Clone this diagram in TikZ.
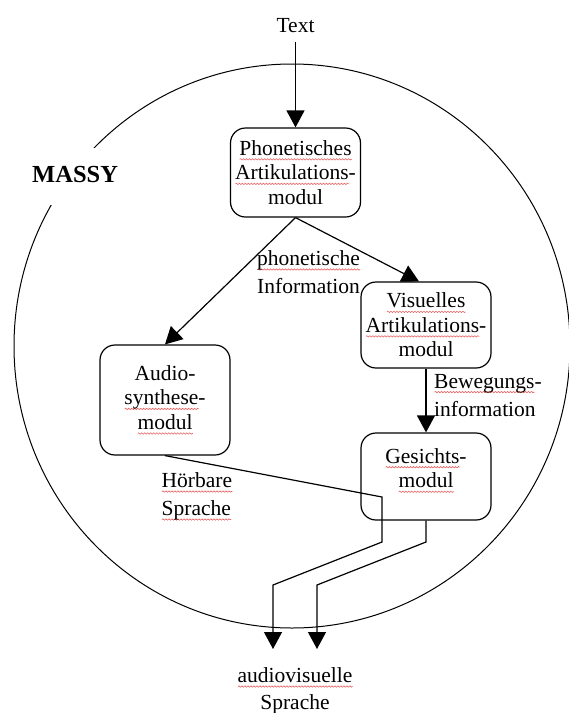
\documentclass[tikz,border=0pt]{standalone}
\usepackage{fontspec}
\setmainfont{Liberation Serif}
\usetikzlibrary{arrows.meta,decorations.pathmorphing}
\definecolor{splred}{RGB}{232,96,96}
% wavy red underline for flagged words
\newsavebox\splbox
\newlength\splw
\newcommand\spl[1]{\sbox\splbox{#1}\setlength\splw{\wd\splbox}%
  \rlap{\tikz[baseline=0pt,x=1pt,y=1pt,sharp corners]
    \draw[splred,line width=0.6pt,decorate,
      decoration={snake,amplitude=0.7pt,segment length=3pt}]
      (0pt,-4pt) -- (\splw,-4pt);}%
  \usebox\splbox}

\begin{document}
\begin{tikzpicture}[x=1pt,y=-1pt,
  modbox/.style={draw, line width=1.2pt, rounded corners=15pt, minimum width=130pt,
    inner sep=0pt, align=center, font=\fontsize{21.5}{24.5}\selectfont},
  lbl/.style={inner sep=0pt, font=\fontsize{21.5}{28}\selectfont},
  conn/.style={line width=1.2pt},
  arr/.style={conn, -{Triangle[width=18pt,length=17pt]}},
]
\path[use as bounding box] (0,0) rectangle (569,713);

% system boundary
\draw[line width=1pt] (292,346) ellipse [x radius=278pt, y radius=282pt];

% modules
\node[modbox, minimum height=89pt] (P) at (295.5,172.5)
  {\spl{Phonetisches}\\\spl{Artikulations}-\\modul};
\node[modbox, minimum height=110pt] (A) at (165,400)
  {Audio-\\\spl{synthese}-\\\spl{modul}};
\node[modbox, minimum height=86pt] (V) at (426,325)
  {\spl{Visuelles}\\\spl{Artikulations}-\\modul};
\node[modbox, minimum height=87pt, text depth=17pt] (G) at (426,476.5)
  {\spl{Gesichts}-\\\spl{modul}};

% labels
\node[lbl, anchor=north] (T) at (295.5,17.8) {Text};
\node[lbl, anchor=north west, align=left] (pi) at (257,250.4)
  {\spl{phonetische}\\Information};
\node[lbl, anchor=north west, align=left] (bi) at (434,373.8)
  {\spl{Bewegungs}-\\information};
\node[lbl, anchor=north west, align=left] (hs) at (161.5,472.4)
  {\spl{Hörbare}\\\spl{Sprache}};
\node[lbl, anchor=north, align=center, font=\fontsize{21.5}{26.5}\selectfont] (av) at (295,667.4)
  {\spl{audiovisuelle}\\Sprache};
\node[fill=white, inner xsep=3pt, inner ysep=0pt, text height=34pt, text depth=23pt,
  anchor=base west, font=\fontsize{24.5}{28}\selectfont\bfseries] (M) at (29,182) {MASSY};

% connectors
\draw[arr] ([yshift=-10pt]T.south) -- (P.north);
\draw[arr] (P.south) -- (A.north);
\draw[arr] (P.south) -- ([xshift=-7pt]V.north);
\draw[arr] (V.south) -- (G.north);
\coordinate (o1) at (273,649);
\coordinate (o2) at (317,649);
\draw[arr] (A.south) -- (382,497) -- (382,542) -- (273,585) -- (o1);
\draw[arr] (G.south) -- (426,542) -- (317,585) -- (o2);
\end{tikzpicture}
\end{document}
